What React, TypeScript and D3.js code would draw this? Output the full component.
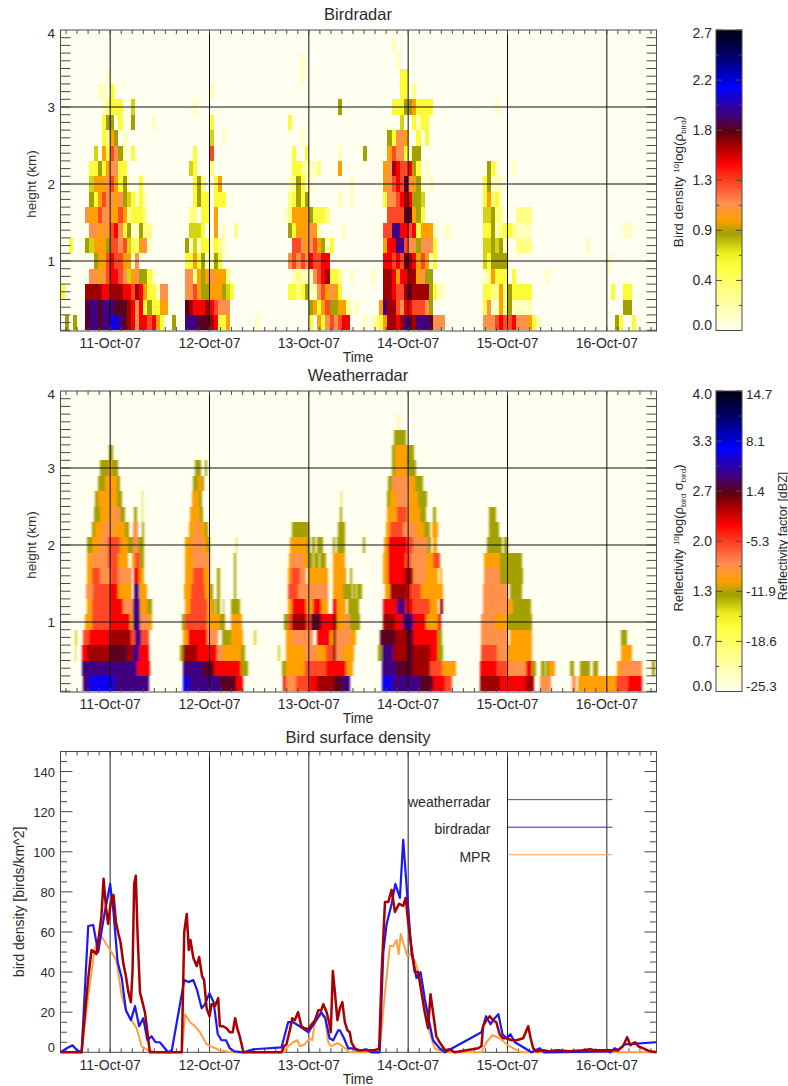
import * as d3 from "d3";

// hours since 10-Oct-07 12:00 on the time axis, 144 hours in all
const dayLabels = ["11-Oct-07", "12-Oct-07", "13-Oct-07", "14-Oct-07", "15-Oct-07", "16-Oct-07"];
const dayHours = [12, 36, 60, 84, 108, 132];

const colorStops: [number, string][] = [
  [0, "#fffff0"], [0.21, "#ffff40"], [0.257, "#eeee20"], [0.323, "#a0a000"], [0.368, "#ffa000"],
  [0.423, "#ff9050"], [0.557, "#ff0000"], [0.62, "#a00000"], [0.66, "#600010"], [0.72, "#400080"],
  [0.81, "#0000ff"], [0.91, "#000070"], [1, "#000010"],
];

// one character per cell, as a share of the colour bar
const levelShare: Record<string, number> = {
  "1": 0.06, "2": 0.13, "3": 0.22, "4": 0.28, "5": 0.325, "6": 0.37, "7": 0.42,
  "8": 0.49, "9": 0.56, a: 0.62, b: 0.67, c: 0.72, d: 0.8,
};

// bird radar: hourly columns, rows 0.2 km deep from 0.1 km up. [first hour, levels]
const birdRows: [number, string][][] = [
  [[1, "5"], [3, "5"], [6, "bccbccddcba97998963005"], [30, "cccbbba9336"], [47, "1"], [60, "3063787899"], [73, "101236aa9acbacccb777"], [102, "77789889777631"], [134, "53003"]],
  [[6, "bccbcccbbba979353366"], [30, "ba999a98777"], [60, "5636855662"], [71, "1"], [77, "6caa879988875"], [102, "371162511111"], [136, "55"]],
  [[0, "3"], [6, "aaaa99aaa998a9633177"], [30, "778655666543"], [55, "3323511786763"], [78, "aa988abaaaa5311"], [102, "332262533333"], [133, "3"], [136, "33"]],
  [[7, "7767899874675531"], [30, "77265676662"], [56, "12111789a332"], [70, "1"], [75, "1"], [78, "aa9699aa6755"], [102, "12633303"], [117, "1"]],
  [[8, "56689886617"], [30, "336351153"], [55, "7878798899"], [78, "99898ba968613"], [102, "435555"], [132, "1"]],
  [[2, "3"], [6, "5466658878432671"], [30, "5141331321"], [56, "8876786513"], [78, "699cc87757773"], [102, "445451"], [110, "2222"], [127, "1"]],
  [[7, "776768973511522"], [31, "4443"], [37, "6"], [39, "1"], [42, "2"], [55, "53666761"], [68, "1"], [78, "88cc998936661"], [93, "1"], [102, "33512332"], [110, "1111"], [136, "11"]],
  [[6, "766877668623332"], [31, "22"], [34, "33"], [37, "6"], [54, "12666653332"], [79, "8888bb653"], [102, "44522"], [110, "2222"]],
  [[7, "53687767543131"], [32, "3533"], [37, "333"], [55, "23535"], [67, "1"], [70, "1"], [78, "37789a9554"], [102, "36231"]],
  [[7, "4666786351"], [19, "3"], [32, "352"], [37, "36"], [55, "125311"], [70, "1"], [78, "67898b7651"], [89, "1"], [102, "35111"]],
  [[7, "335367733"], [31, "43"], [36, "2"], [56, "3321112"], [67, "6"], [78, "67a988953"], [88, "1"], [103, "531"], [109, "1"]],
  [[8, "4"], [10, "638751"], [17, "3"], [32, "3"], [36, "8"], [56, "3"], [59, "3"], [67, "1"], [73, "5"], [79, "68773155"]],
  [[10, "3265"], [15, "1"], [36, "4"], [39, "1"], [58, "1"], [79, "53776"], [86, "3"], [88, "3"]],
  [[10, "35503"], [17, "5"], [22, "1"], [36, "3"], [55, "3"], [82, "4"], [85, "313"], [88, "3"]],
  [[10, "12333"], [17, "4"], [32, "1"], [67, "5"], [80, "3335563333"], [105, "1"]],
  [[9, "11"], [12, "31"], [36, "1"], [82, "33"], [85, "2"]],
  [[11, "1"], [58, "1"], [82, "33"]],
  [[58, "1"], [81, "1"]],
  [[80, "1"]],
];

// weather radar: finer in time, so kept as runs. [from hour, to hour, level]
const weatherRows: [number, number, string][][] = [
  [[5.5, 7, "c"], [7, 13, "d"], [13, 21.5, "c"], [29.5, 31, "d"], [31, 38.5, "c"], [38.5, 42.5, "b"], [42.5, 44, "9"], [53.8, 54.6, "9"], [54.6, 57, "7"], [57, 60, "8"], [60, 62, "9"], [62, 66, "a"], [66, 68.3, "b"], [68.3, 69.9, "c"], [77.6, 80, "d"], [80, 86.8, "c"], [86.8, 90, "b"], [90, 93, "9"], [93, 94.5, "8"], [101.3, 106.2, "a"], [106.2, 112.5, "9"], [112.5, 114.4, "a"], [115.8, 118.5, "7"], [123.5, 124.5, "7"], [125.1, 134.3, "6"], [134.3, 137, "8"], [137, 140.4, "9"]],
  [[0, 0.2, "6"], [5.3, 18.5, "c"], [18.5, 21.7, "9"], [29.5, 34.5, "c"], [34.5, 37, "b"], [37, 43.5, "9"], [43.5, 45.4, "5"], [53.6, 54.6, "5"], [54.6, 59, "6"], [59, 64.2, "8"], [64.2, 69.1, "9"], [69.1, 70.7, "6"], [77.6, 81, "c"], [81, 85.2, "b"], [85.2, 89.2, "a"], [89.2, 92.1, "8"], [92.1, 95.5, "6"], [101.3, 105.4, "9"], [105.4, 108, "8"], [108, 112.5, "7"], [112.5, 113.8, "9"], [113.9, 115, "5"], [116.2, 117, "5"], [117.3, 118, "5"], [118, 119.5, "6"], [123, 124, "5"], [125.6, 128, "5"], [128.6, 129.9, "5"], [134.5, 135.5, "6"], [135.5, 140.4, "7"], [143, 143.6, "5"]],
  [[0, 0.2, "6"], [3.4, 3.8, "4"], [5.1, 6.5, "9"], [6.5, 12, "a"], [12, 16, "b"], [16, 17.5, "a"], [17.5, 19, "c"], [19, 21.5, "9"], [28.9, 29.5, "5"], [29.5, 33, "a"], [33, 37.7, "9"], [37.7, 39.3, "7"], [39.3, 43.5, "6"], [43.5, 44.6, "5"], [52.6, 53, "4"], [54.6, 59, "6"], [59, 62, "7"], [62, 64.2, "6"], [64.2, 65.8, "8"], [65.8, 66.5, "a"], [66.5, 68.3, "7"], [68.3, 71, "6"], [76.8, 77.6, "5"], [77.6, 80.4, "c"], [80.4, 83.6, "a"], [83.6, 85.2, "b"], [85.2, 89.2, "a"], [89.2, 91.3, "9"], [91.3, 92.5, "5"], [101.7, 105.4, "8"], [105.4, 108, "7"], [108, 113.8, "6"], [135.5, 138, "6"]],
  [[3.6, 4, "4"], [5.5, 7, "8"], [7, 12, "9"], [12, 17, "a"], [17, 18, "8"], [18, 19.5, "c"], [19.5, 21.5, "8"], [29.7, 30.9, "6"], [30.9, 35.4, "9"], [35.4, 38, "7"], [38.9, 41.3, "5"], [41.3, 44, "6"], [46.8, 47.2, "4"], [54.6, 56, "6"], [56, 61, "7"], [61.9, 65.1, "9"], [65.1, 65.9, "6"], [65.9, 66.6, "a"], [66.6, 69.9, "7"], [69.9, 71.3, "6"], [77.2, 80.8, "b"], [80.8, 83.6, "a"], [83.6, 85.2, "b"], [85.2, 91.3, "9"], [91.3, 92.1, "5"], [101.7, 108, "7"], [108.5, 113.8, "6"], [135.5, 136.8, "5"]],
  [[6, 7.5, "6"], [7.5, 12, "8"], [12, 16.8, "9"], [16.8, 17.6, "6"], [17.6, 19.2, "c"], [19.2, 21.2, "7"], [21.2, 22, "6"], [29.3, 30, "5"], [30, 35.4, "8"], [35.4, 38.5, "6"], [38.5, 39.7, "5"], [41.3, 43.9, "6"], [54.1, 55, "5"], [55, 56, "8"], [56, 59.3, "a"], [59.3, 60.6, "8"], [60.6, 63, "b"], [63, 65.9, "9"], [65.9, 66.7, "a"], [66.7, 68.7, "6"], [68.7, 69.9, "7"], [69.9, 72.3, "5"], [77.8, 80.8, "a"], [80.8, 82.8, "9"], [82.8, 85.2, "c"], [85.2, 88.4, "9"], [88.4, 91.3, "6"], [91.3, 91.9, "9"], [101.7, 105, "7"], [105, 108, "6"], [108, 113.8, "5"]],
  [[6.5, 7.5, "6"], [7.5, 12, "8"], [12, 15.2, "9"], [15.2, 17.6, "7"], [17.6, 19.2, "c"], [19.2, 20.8, "6"], [20.8, 22, "5"], [30, 31.2, "6"], [31.2, 35.4, "8"], [35.4, 36.9, "6"], [36.9, 37.4, "5"], [37.5, 38.5, "5"], [39.2, 39.5, "5"], [41.3, 43.3, "5"], [55, 56, "6"], [56, 59.4, "9"], [59.4, 61, "6"], [61, 63, "9"], [63, 64.7, "6"], [65.9, 66.7, "9"], [66.7, 69.1, "6"], [69.4, 72, "5"], [78, 81.2, "9"], [81.2, 83.2, "c"], [83.2, 85.2, "9"], [85.2, 89.2, "8"], [89.2, 91.3, "6"], [91.7, 92.5, "a"], [102.1, 108, "7"], [108, 109.4, "6"], [109.4, 113.7, "5"]],
  [[6.2, 7.9, "7"], [7.9, 12, "8"], [12, 14, "9"], [14, 17.2, "6"], [17.8, 19, "c"], [19, 20.8, "6"], [29.9, 31.5, "6"], [31.5, 35, "8"], [35, 36, "6"], [36, 36.9, "5"], [37.7, 38.5, "5"], [42, 42.4, "5"], [55, 57.5, "8"], [57.5, 64.7, "7"], [65.9, 68.3, "6"], [68.3, 70.4, "5"], [70.7, 71.3, "5"], [71.6, 72.8, "5"], [78.4, 79.6, "6"], [79.6, 83.6, "a"], [83.6, 84.8, "9"], [84.8, 87.2, "8"], [87.2, 92.5, "6"], [102.1, 108, "7"], [108.7, 111.4, "5"]],
  [[6.5, 7.5, "6"], [7.5, 9.5, "8"], [9.5, 12, "7"], [12, 14, "8"], [14, 17.2, "7"], [17.8, 19, "9"], [19, 20.2, "6"], [30, 32, "6"], [32, 34.6, "8"], [34.6, 36, "6"], [37.7, 38.5, "5"], [42, 42.4, "5"], [55, 55.8, "6"], [55.8, 57.8, "8"], [57.8, 59.4, "7"], [59.8, 64.7, "6"], [65.9, 68.7, "6"], [68.7, 69.1, "5"], [70, 70.4, "5"], [78, 79.2, "6"], [79.2, 83.2, "9"], [83.2, 85.2, "a"], [85.2, 88, "7"], [88, 91.3, "6"], [91.7, 92.1, "6"], [102.3, 106.2, "7"], [106.2, 111.8, "5"]],
  [[6.3, 7.5, "6"], [7.5, 11.5, "7"], [11.5, 14, "8"], [14, 16.4, "6"], [17.2, 18, "6"], [18, 19.2, "8"], [19.2, 20.2, "5"], [30, 32, "6"], [32, 36, "7"], [42, 42.4, "5"], [55.1, 55.9, "6"], [55.9, 58.7, "7"], [58.7, 59.9, "6"], [59.9, 61, "5"], [61.3, 62.4, "5"], [62.7, 64.2, "5"], [65.9, 68.7, "6"], [78, 79.2, "6"], [79.2, 83.2, "9"], [83.2, 84.8, "8"], [84.8, 88.4, "7"], [88.4, 90, "6"], [90, 91.7, "8"], [102.3, 106.2, "6"], [106.2, 111.4, "5"]],
  [[6.5, 7.5, "5"], [7.5, 9.5, "6"], [9.5, 11.5, "7"], [11.5, 14.4, "8"], [14.4, 16.4, "6"], [16.4, 17.4, "5"], [17.6, 18.8, "7"], [18.8, 20.2, "5"], [30, 32, "6"], [32, 34.5, "7"], [34.5, 35.4, "6"], [35.4, 36, "5"], [42.4, 42.6, "4"], [55.5, 59.5, "6"], [59.5, 60.4, "5"], [60.8, 61.6, "5"], [62, 63.5, "5"], [65.9, 66.4, "5"], [66.8, 68.7, "5"], [73.2, 73.5, "5"], [78.2, 79.2, "6"], [79.2, 83.6, "9"], [83.6, 85.2, "8"], [85.2, 88.8, "7"], [88.8, 89.6, "5"], [90, 91, "6"], [103.1, 106.6, "5"], [107.2, 108.2, "5"]],
  [[7.5, 8.3, "5"], [8.3, 10.3, "6"], [10.3, 12.8, "7"], [12.8, 15.6, "6"], [15.6, 16.6, "5"], [17.6, 18.8, "7"], [19.6, 20.2, "5"], [31, 32.5, "6"], [32.5, 33.7, "7"], [33.7, 34.9, "6"], [34.9, 35.7, "5"], [56, 60, "5"], [67, 68.7, "5"], [78.6, 79.6, "6"], [79.6, 82.8, "8"], [82.8, 86, "7"], [86, 87.8, "6"], [87.8, 89.2, "5"], [89.8, 91.3, "6"], [103.6, 106, "5"]],
  [[8.2, 9.5, "5"], [9.5, 12.8, "6"], [12.8, 14.4, "7"], [14.4, 15.6, "5"], [17.8, 18.6, "5"], [19.7, 20, "4"], [31.2, 33.7, "6"], [33.7, 34.4, "5"], [67.5, 68, "5"], [79, 81.2, "6"], [81.2, 83.6, "8"], [83.6, 86.8, "6"], [86.8, 88.3, "5"], [90, 90.7, "5"], [103.6, 105.2, "5"]],
  [[8.3, 9.1, "5"], [9.1, 13.6, "6"], [13.6, 14.8, "5"], [19.6, 20, "4"], [31.7, 33.5, "6"], [33.5, 34.1, "5"], [67.7, 68.1, "4"], [78.8, 79.6, "5"], [79.6, 81.2, "6"], [81.2, 83.6, "7"], [83.6, 86.4, "6"], [86.4, 88.6, "5"]],
  [[9, 10.7, "5"], [10.7, 13.6, "6"], [13.6, 14.4, "5"], [32, 33.3, "5"], [33.3, 34.2, "6"], [34.2, 34.6, "5"], [79.2, 80, "5"], [80, 84, "7"], [84, 85.6, "6"], [85.6, 87.5, "5"]],
  [[9.5, 11.6, "5"], [11.6, 12.4, "6"], [12.4, 13.8, "5"], [32.5, 34, "5"], [34.9, 35.3, "5"], [80, 80.8, "5"], [80.8, 83.6, "6"], [83.6, 86, "5"]],
  [[11.6, 12.8, "5"], [80, 80.8, "5"], [80.8, 83.6, "6"], [83.6, 85.4, "5"]],
  [[80.6, 83.4, "5"]],
  [[81.5, 81.9, "3"]],
];

// surface density series as [hour, birds/km^2]
const weatherSeries: [number, number][] = [
  [0, 0], [5.1, 0], [5.5, 10], [6.7, 37], [7.5, 51], [8.2, 50], [8.7, 49], [9.4, 60], [9.9, 68], [10.4, 86.5], [11, 72], [11.5, 64], [12.1, 74], [12.8, 78.5], [13.4, 65], [14, 59], [14.5, 55], [15.2, 44], [15.8, 38], [16.4, 30], [17, 25], [17.4, 40], [17.8, 84], [18.2, 88], [18.6, 60], [19.2, 30], [19.8, 25], [20.4, 20], [21, 10], [21.6, 0],
  [29.3, 0], [29.7, 40], [29.9, 60], [30.5, 69], [31, 51], [31.4, 56], [32.1, 47], [32.9, 43], [33.5, 47.5], [34.2, 38], [34.7, 36], [35.3, 22], [36, 18], [36.5, 24], [37.3, 23], [38.1, 27], [38.5, 13], [39.3, 13], [40.1, 12], [40.9, 10], [41.6, 10], [42.2, 17], [42.7, 12], [43.3, 8], [44.2, 0],
  [53.4, 0], [54, 3], [54.6, 4], [55.4, 11], [56, 17], [56.6, 16], [57.4, 20], [58.2, 13], [59, 12], [59.9, 11.5], [60.7, 14], [61.5, 16], [62.3, 21], [63, 21], [63.5, 24], [64.3, 20], [64.9, 15], [65.3, 10], [65.8, 40.5], [66.3, 30], [66.9, 16], [67.5, 22], [68.1, 25], [68.7, 15], [69.3, 11], [69.9, 10], [70.3, 5], [71.1, 2], [72.3, 1], [73.9, 1], [76, 1], [77, 2],
  [77.6, 40], [78.4, 75], [79.2, 75], [80, 81], [80.8, 70], [81.8, 74], [82.8, 73], [83.4, 77], [84, 65], [84.8, 52], [85.6, 40], [86.4, 40], [87.2, 30], [88, 20], [88.8, 12], [89.4, 29], [90, 20], [90.8, 8], [91.6, 5], [92.9, 1], [94, 1.5], [95.3, 0],
  [100.9, 2], [101.7, 3], [102.1, 13], [102.9, 16], [103.7, 18], [104.5, 16], [105.3, 15], [106.1, 9], [106.9, 7], [107.8, 7], [109, 6], [110.2, 6], [111.8, 7], [113, 13], [113.6, 7], [114.2, 2], [115, 0.5], [116.6, 1], [118, 0.5], [120, 1], [123, 0.5], [126, 1], [128, 1.5], [129, 1], [131.9, 1], [133.5, 1], [134.7, 1], [135.9, 3], [136.9, 7.5], [137.7, 3.5], [138.8, 5], [139.6, 3], [140.8, 2], [142.4, 0.5], [144, 0],
];
const birdSeries: [number, number][] = [
  [0, 0], [1.5, 2], [2.9, 3.5], [4, 1], [5.1, 0], [6.7, 63], [7.9, 63.5], [9.1, 50], [10.7, 70], [12, 84], [12.8, 70], [13.8, 45], [14.8, 37], [15.8, 21], [17, 16], [18, 23], [19, 13], [20, 17], [21, 6], [22, 8], [23, 5], [24, 5], [26, 0], [26.9, 1],
  [29.9, 36], [30.9, 35], [32.1, 36], [33, 31], [34.1, 22], [34.9, 24], [36, 29.5], [37, 25], [38, 9], [38.9, 6], [40, 6], [40.9, 2], [42, 0.5], [44.2, 0], [46.6, 1.5], [53.4, 2.5],
  [55, 15], [56.2, 15], [57.8, 13], [59.9, 10], [61.5, 15], [63, 20], [64, 17], [65, 7], [65.9, 6], [67.1, 11], [67.5, 11], [68.5, 7], [69.5, 2], [70.7, 2], [71.5, 1], [72.7, 1], [73.9, 1.5], [75.1, 0], [77.1, 0],
  [78, 50], [78.8, 64], [80, 74], [80.9, 84], [82, 77], [82.8, 106], [83.9, 75], [84.8, 50], [86, 37], [87, 40], [88, 27], [89.1, 15], [90, 6], [91.6, 2], [92.9, 0],
  [101.7, 10], [102.8, 18], [103.9, 14], [104.9, 17], [105.8, 19], [106.8, 9], [107.8, 7], [108.7, 9], [109.8, 5], [113.8, 0], [115.8, 2], [116.8, 0], [131.9, 0.5], [132.9, 0], [133.9, 2], [134.7, 1], [136.3, 4], [144, 5],
];
const mprSeries: [number, number][] = [
  [0, 0], [5.1, 0], [6.7, 28], [8.3, 52], [9.8, 58], [12, 51], [13.5, 46], [14.8, 28], [16, 20], [17.2, 16], [18.4, 12], [19.6, 3], [21.2, 1], [23.2, 0],
  [29.3, 0], [30.1, 19], [31.3, 15], [32.5, 13], [33.7, 10], [35.3, 4], [36.9, 2.5], [38.5, 1], [41, 0],
  [53.8, 0], [55, 3], [56.2, 5], [57.3, 6], [57.8, 3], [59, 4], [60.2, 7], [60.8, 6], [61.5, 15], [63, 19], [63.9, 17], [64.7, 5], [65.3, 3], [66.7, 4.5], [67.5, 4], [68.7, 2], [69.9, 0],
  [77.1, 0], [78.4, 30], [79.6, 53], [80.4, 53], [81.2, 56], [81.7, 49], [82.2, 59], [82.9, 54], [83.8, 48], [84.5, 49], [85.6, 46], [86.8, 37], [88, 25], [89.2, 10], [90.4, 2], [92.5, 0],
  [101.7, 0], [102.9, 5], [104.3, 8.5], [106.1, 7], [107.8, 4], [109.4, 2], [111.4, 0], [144, 0],
];

const legendLabels = ["weatherradar", "birdradar", "MPR"];
const legendColors = ["#b03030", "#2020f0", "#ffa050"];
const birdBarLabels = ["0.0", "0.4", "0.9", "1.3", "1.8", "2.2", "2.7"];
const weatherBarLabels = ["0.0", "0.7", "1.3", "2.0", "2.7", "3.3", "4.0"];
const dbzBarLabels = ["-25.3", "-18.6", "-11.9", "-5.3", "1.4", "8.1", "14.7"];

const FONT = "'Liberation Sans', Arial, sans-serif";
const INK = "#2a2a2a";
const FRAME = "#4a4a4a";
const LEFT = 60.5;
const RIGHT = 656.5;

const x = d3.scaleLinear().domain([0, 144]).range([LEFT, RIGHT]);
const color = d3.scaleLinear<string>().domain(colorStops.map((d) => d[0])).range(colorStops.map((d) => d[1])).interpolate(d3.interpolateRgb);
const xMinor = d3.range(-12, 145, 24 / 9).filter((h) => h > 0 && h < 144);

const heightScale = (top: number, bottom: number) => d3.scaleLinear().domain([4, 4 - (bottom - top) / 77]).range([top, bottom]);

const Frame = ({ top, bottom, yTicks, yLen }: { top: number; bottom: number; yTicks: number[]; yLen: (i: number) => number }) => (
  <g stroke={FRAME} strokeWidth={1} fill="none">
    {xMinor.map((h) => (
      <g key={h}>
        <line x1={x(h)} x2={x(h)} y1={top} y2={top + 4} />
        <line x1={x(h)} x2={x(h)} y1={bottom} y2={bottom - 4} />
      </g>
    ))}
    {yTicks.map((y, i) => (
      <g key={i}>
        <line x1={LEFT} x2={LEFT + yLen(i)} y1={y} y2={y} />
        <line x1={RIGHT} x2={RIGHT - yLen(i)} y1={y} y2={y} />
      </g>
    ))}
    <rect x={LEFT} y={top} width={RIGHT - LEFT} height={bottom - top} />
  </g>
);

const DayLabels = ({ y, timeY, title, titleY }: { y: number; timeY: number; title: string; titleY: number }) => (
  <g fontFamily={FONT} fill={INK}>
    {dayHours.map((h, i) => (
      <text key={h} x={x(h)} y={y} fontSize={14} textAnchor="middle">{dayLabels[i]}</text>
    ))}
    <text x={358} y={timeY} fontSize={14} textAnchor="middle">Time</text>
    <text x={358} y={titleY} fontSize={16.5} textAnchor="middle">{title}</text>
  </g>
);

const HeatPanel = ({ id, top, bottom, cells, blur }: { id: string; top: number; bottom: number; cells: { from: number; to: number; row: number; level: string }[]; blur: string }) => {
  const y = heightScale(top, bottom);
  const minor = d3.range(1, 40).map((d) => y(d / 10));
  return (
    <g>
      <clipPath id={id}><rect x={LEFT} y={top} width={RIGHT - LEFT} height={bottom - top} /></clipPath>
      <filter id={`${id}-soft`} x={LEFT - 10} y={top - 10} width={RIGHT - LEFT + 20} height={bottom - top + 20} filterUnits="userSpaceOnUse">
        <feGaussianBlur stdDeviation={blur} />
      </filter>
      <rect x={LEFT} y={top} width={RIGHT - LEFT} height={bottom - top} fill="#fffff0" />
      <g clipPath={`url(#${id})`}>
        <g filter={`url(#${id}-soft)`} shapeRendering="crispEdges">
          {cells.map((c, i) => (
            <rect
              key={i}
              x={x(c.from)}
              width={x(c.to) - x(c.from)}
              y={y(0.3 + c.row * 0.2)}
              height={y(0.1) - y(0.3)}
              fill={color(levelShare[c.level])}
            />
          ))}
        </g>
      </g>
      <g stroke="#111" strokeWidth={1}>
        {dayHours.map((h) => <line key={h} x1={x(h)} x2={x(h)} y1={top} y2={bottom} />)}
        {[1, 2, 3].map((k) => <line key={k} x1={LEFT} x2={RIGHT} y1={y(k)} y2={y(k)} />)}
      </g>
      <Frame top={top} bottom={bottom} yTicks={minor} yLen={() => 10} />
      <g fontFamily={FONT} fill={INK} fontSize={13.5} textAnchor="end">
        {[1, 2, 3, 4].map((k) => (
          <text key={k} x={55} y={k === 4 ? y(k) + 8 : y(k) + 5}>{k}</text>
        ))}
      </g>
      <text transform={`translate(36,${y(2)}) rotate(-90)`} fontFamily={FONT} fontSize={13.5} fill={INK} textAnchor="middle">height (km)</text>
    </g>
  );
};

const ColorBar = ({ top, bottom, left, right }: { top: number; bottom: number; left: string[]; right?: string[] }) => {
  const y = d3.scaleLinear().domain([0, 1]).range([bottom, top]);
  const steps = d3.range(0, 300);
  const ticks = d3.range(0, 13).map((d) => d / 12);
  return (
    <g>
      <g shapeRendering="crispEdges">
        {steps.map((s) => (
          <rect key={s} x={716} width={26} y={y((s + 1) / 300)} height={y(s / 300) - y((s + 1) / 300) + 0.5} fill={color(s / 300)} />
        ))}
      </g>
      <g stroke={FRAME} strokeWidth={1}>
        {ticks.map((t, i) => (
          <g key={i}>
            <line x1={716} x2={716 + (i % 2 ? 3 : 6)} y1={y(t)} y2={y(t)} />
            <line x1={742} x2={742 - (i % 2 ? 3 : 6)} y1={y(t)} y2={y(t)} />
          </g>
        ))}
        <rect x={716} y={top} width={26} height={bottom - top} fill="none" />
      </g>
      <g fontFamily={FONT} fill={INK} fontSize={14}>
        {left.map((l, i) => (
          <text key={l} x={712} y={i === 0 ? y(i / 6) - 1 : i === 6 ? y(1) + 8 : y(i / 6) + 5} textAnchor="end">{l}</text>
        ))}
        {right?.map((l, i) => (
          <text key={l} x={746} fontSize={13.5} y={i === 0 ? y(i / 6) - 1 : i === 6 ? y(1) + 8 : y(i / 6) + 5}>{l}</text>
        ))}
      </g>
    </g>
  );
};

const birdCells = birdRows.flatMap((segments, row) =>
  segments.flatMap(([start, levels]) =>
    Array.from(levels)
      .map((level, i) => ({ from: start + i, to: start + i + 1, row, level }))
      .filter((c) => c.level !== "0"),
  ),
);
const weatherCells = weatherRows.flatMap((runs, row) => runs.map(([from, to, level]) => ({ from, to, row, level })));

const density = d3.scaleLinear().domain([0, 150]).range([1052.3, 751.5]);
const densityLine = d3.line<[number, number]>().x((d) => x(d[0])).y((d) => density(d[1]));

const App = () => (
  <svg width={788} height={1086} style={{ position: "absolute", left: 0, top: 0, background: "#fff" }}>
    <HeatPanel id="bird-clip" top={30} bottom={331} cells={birdCells} blur="0.5 0.4" />
    <DayLabels y={348} timeY={362} title="Birdradar" titleY={20} />
    <ColorBar top={30} bottom={330.5} left={birdBarLabels} />
    <text transform="translate(683,181.5) rotate(-90)" fontFamily={FONT} fontSize={13.5} fill={INK} textAnchor="middle">
      Bird density <tspan fontSize={8} dy={-4}>10</tspan><tspan dy={4}>log(ρ</tspan><tspan fontSize={8} dy={3}>bird</tspan><tspan dy={-3}>)</tspan>
    </text>

    <HeatPanel id="weather-clip" top={391} bottom={692} cells={weatherCells} blur="1.1 0.4" />
    <DayLabels y={709} timeY={723} title="Weatherradar" titleY={381} />
    <ColorBar top={391} bottom={691.5} left={weatherBarLabels} right={dbzBarLabels} />
    <text transform="translate(683,538) rotate(-90)" fontFamily={FONT} fontSize={13} fill={INK} textAnchor="middle">
      Reflectivity <tspan fontSize={8} dy={-4}>10</tspan><tspan dy={4}>log(ρ</tspan><tspan fontSize={8} dy={3}>bird</tspan><tspan dy={-3}> σ</tspan><tspan fontSize={8} dy={3}>bird</tspan><tspan dy={-3}>)</tspan>
    </text>
    <text transform="translate(787,536) rotate(-90)" fontFamily={FONT} fontSize={12.5} fill={INK} textAnchor="middle">Reflectivity factor [dBZ]</text>

    <g>
      <g stroke="#222" strokeWidth={1}>
        {dayHours.map((h) => <line key={h} x1={x(h)} x2={x(h)} y1={density(150)} y2={density(0)} />)}
      </g>
      <Frame
        top={751.5}
        bottom={1052.3}
        yTicks={d3.range(0, 151, 5).map((d) => density(d))}
        yLen={(i) => (i % 4 === 0 ? 12 : 6.5)}
      />
      <g fill="none" strokeLinejoin="round">
        <path d={densityLine(mprSeries) ?? ""} stroke="#ff9f40" strokeWidth={2} />
        <path d={densityLine(birdSeries) ?? ""} stroke="#1a1af0" strokeWidth={2.2} />
        <path d={densityLine(weatherSeries) ?? ""} stroke="#a80000" strokeWidth={2.5} />
      </g>
      <g fontFamily={FONT} fill={INK} fontSize={13} textAnchor="end">
        {d3.range(0, 141, 20).map((d) => (
          <text key={d} x={55} y={d === 0 ? density(d) : density(d) + 5}>{d}</text>
        ))}
      </g>
      <text transform={`translate(24,${density(75)}) rotate(-90)`} fontFamily={FONT} fontSize={14} fill={INK} textAnchor="middle">bird density [birds/km^2]</text>
      {legendLabels.map((l, i) => {
        const ly = density(126 - i * 13.75);
        return (
          <g key={l}>
            <text x={490.5} y={ly + 7} fontFamily={FONT} fontSize={14} fill={INK} textAnchor="end">{l}</text>
            <line x1={507.5} x2={612.5} y1={ly} y2={ly} stroke={legendColors[i]} strokeWidth={1} />
          </g>
        );
      })}
    </g>
    <DayLabels y={1070} timeY={1084} title="Bird surface density" titleY={743} />
  </svg>
);

export default App;
